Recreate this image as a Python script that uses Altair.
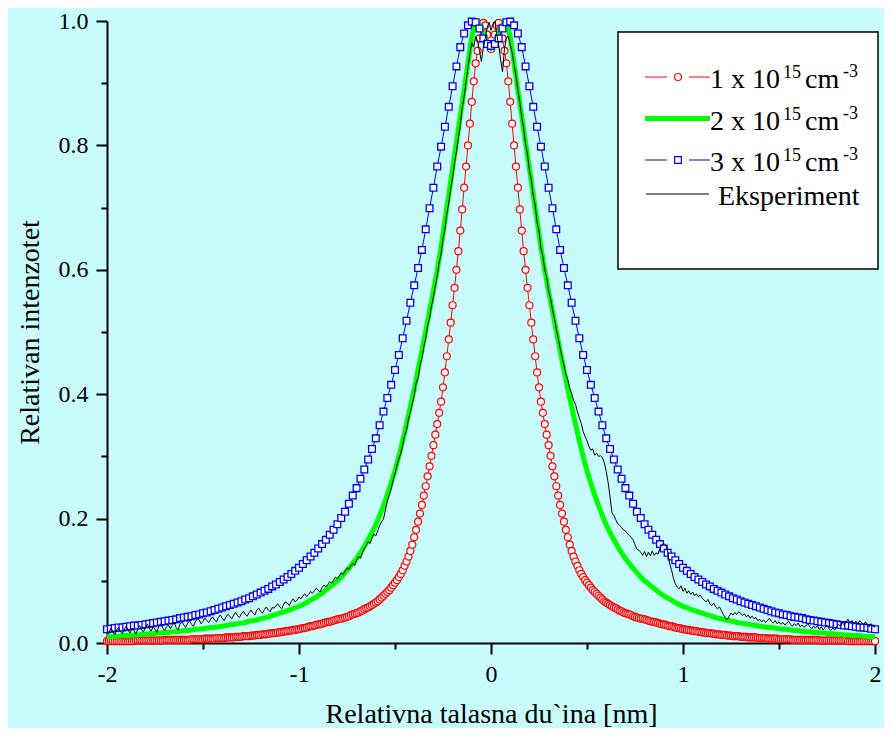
import altair as alt
import pandas as pd

FONT = "Liberation Serif"

# ---------------- data ----------------
# theoretical profiles are symmetric: values for x >= 0, mirrored to x < 0
RED_STEP = 0.01   # 1 x 10^15 cm^-3
red_half = [
    0.955, 0.962, 0.978, 0.993, 0.997, 0.988, 0.972, 0.952, 0.932, 0.903,
    0.870, 0.835, 0.800, 0.766, 0.732, 0.697, 0.663, 0.630, 0.600, 0.571,
    0.543, 0.515, 0.488, 0.461, 0.435, 0.411, 0.388, 0.370, 0.352, 0.335,
    0.318, 0.301, 0.284, 0.268, 0.252, 0.237, 0.222, 0.208, 0.195, 0.182,
    0.170, 0.158, 0.148, 0.139, 0.131, 0.124, 0.117, 0.111, 0.106, 0.101,
    0.097, 0.093, 0.089, 0.085, 0.082, 0.079, 0.076, 0.073, 0.070, 0.067,
    0.065, 0.063, 0.061, 0.059, 0.057, 0.056, 0.054, 0.052, 0.051, 0.049,
    0.048, 0.047, 0.046, 0.045, 0.043, 0.042, 0.041, 0.040, 0.039, 0.039,
    0.038, 0.037, 0.036, 0.035, 0.034, 0.034, 0.033, 0.032, 0.031, 0.030,
    0.030, 0.029, 0.028, 0.027, 0.027, 0.026, 0.025, 0.024, 0.024, 0.023,
    0.022, 0.022, 0.021, 0.021, 0.020, 0.020, 0.019, 0.019, 0.018, 0.018,
    0.017, 0.017, 0.016, 0.016, 0.016, 0.015, 0.015, 0.014, 0.014, 0.014,
    0.013, 0.013, 0.013, 0.012, 0.012, 0.012, 0.011, 0.011, 0.011, 0.011,
    0.010, 0.010, 0.010, 0.010, 0.009, 0.009, 0.009, 0.009, 0.009, 0.008,
    0.008, 0.008, 0.008, 0.008, 0.007, 0.007, 0.007, 0.007, 0.007, 0.007,
    0.006, 0.006, 0.006, 0.006, 0.006, 0.006, 0.006, 0.005, 0.005, 0.005,
    0.005, 0.005, 0.005, 0.005, 0.005, 0.005, 0.005, 0.005, 0.005, 0.005,
    0.005, 0.004, 0.004, 0.004, 0.004, 0.004, 0.004, 0.004, 0.004, 0.004,
    0.004, 0.004, 0.004, 0.004, 0.004, 0.004, 0.003, 0.003, 0.003, 0.003,
    0.003, 0.003, 0.003, 0.003, 0.003, 0.003, 0.003, 0.003, 0.003, 0.003,
    0.003,
]

CURVE_STEP = 0.02  # 2 x 10^15 and 3 x 10^15 cm^-3
green_half = [
    0.957, 0.966, 0.982, 0.995, 0.999, 0.975, 0.932, 0.889, 0.847, 0.805,
    0.763, 0.721, 0.679, 0.637, 0.599, 0.566, 0.534, 0.502, 0.470, 0.439,
    0.408, 0.380, 0.352, 0.325, 0.300, 0.277, 0.257, 0.238, 0.221, 0.205,
    0.190, 0.178, 0.166, 0.155, 0.145, 0.136, 0.128, 0.120, 0.113, 0.106,
    0.100, 0.095, 0.090, 0.085, 0.080, 0.076, 0.072, 0.069, 0.065, 0.062,
    0.059, 0.057, 0.054, 0.052, 0.050, 0.048, 0.046, 0.044, 0.042, 0.040,
    0.039, 0.037, 0.036, 0.035, 0.033, 0.032, 0.031, 0.030, 0.029, 0.028,
    0.027, 0.026, 0.025, 0.025, 0.024, 0.023, 0.022, 0.022, 0.021, 0.020,
    0.020, 0.019, 0.018, 0.018, 0.017, 0.017, 0.016, 0.016, 0.015, 0.015,
    0.014, 0.014, 0.013, 0.013, 0.012, 0.012, 0.012, 0.011, 0.011, 0.010,
    0.010,
]
blue_half = [
    0.960, 0.963, 0.972, 0.988, 0.998, 0.999, 0.993, 0.980, 0.958, 0.927,
    0.895, 0.862, 0.830, 0.798, 0.766, 0.732, 0.699, 0.665, 0.632, 0.603,
    0.575, 0.547, 0.518, 0.490, 0.463, 0.439, 0.415, 0.394, 0.372, 0.350,
    0.329, 0.312, 0.295, 0.279, 0.264, 0.249, 0.237, 0.224, 0.211, 0.201,
    0.191, 0.182, 0.174, 0.166, 0.159, 0.152, 0.145, 0.139, 0.133, 0.127,
    0.121, 0.116, 0.111, 0.106, 0.102, 0.098, 0.094, 0.091, 0.087, 0.084,
    0.081, 0.078, 0.075, 0.072, 0.070, 0.067, 0.065, 0.063, 0.061, 0.059,
    0.057, 0.055, 0.053, 0.051, 0.049, 0.048, 0.046, 0.045, 0.043, 0.042,
    0.041, 0.040, 0.038, 0.037, 0.036, 0.035, 0.034, 0.033, 0.032, 0.031,
    0.030, 0.029, 0.028, 0.028, 0.027, 0.026, 0.025, 0.025, 0.024, 0.023,
    0.022,
]

# experiment, x = -2.00 ... 2.00, step 0.01
EXP_START = -2.0
EXP_STEP = 0.01
exp_left = [  # -2.00 ... -0.01
    0.020, 0.016, 0.024, 0.019, 0.013, 0.021, 0.025, 0.018, 0.015, 0.022,
    0.027, 0.020, 0.016, 0.023, 0.021, 0.014, 0.022, 0.028, 0.021, 0.018,
    0.025, 0.030, 0.024, 0.019, 0.026, 0.022, 0.017, 0.027, 0.031, 0.024,
    0.020, 0.026, 0.029, 0.023, 0.028, 0.033, 0.025, 0.021, 0.030, 0.034,
    0.029, 0.025, 0.032, 0.036, 0.030, 0.027, 0.034, 0.039, 0.037, 0.031,
    0.035, 0.040, 0.036, 0.033, 0.038, 0.042, 0.037, 0.034, 0.041, 0.045,
    0.040, 0.036, 0.042, 0.046, 0.043, 0.039, 0.045, 0.049, 0.044, 0.041,
    0.047, 0.051, 0.046, 0.043, 0.049, 0.053, 0.048, 0.045, 0.053, 0.056,
    0.051, 0.048, 0.054, 0.058, 0.053, 0.050, 0.057, 0.056, 0.060, 0.063,
    0.058, 0.055, 0.062, 0.066, 0.064, 0.060, 0.067, 0.071, 0.066, 0.069,
    0.074, 0.071, 0.076, 0.079, 0.075, 0.078, 0.083, 0.080, 0.084, 0.088,
    0.085, 0.082, 0.089, 0.093, 0.090, 0.094, 0.099, 0.096, 0.101, 0.106,
    0.103, 0.108, 0.113, 0.110, 0.116, 0.121, 0.118, 0.124, 0.128, 0.125,
    0.133, 0.139, 0.136, 0.145, 0.152, 0.157, 0.163, 0.160, 0.168, 0.175,
    0.172, 0.180, 0.189, 0.195, 0.199, 0.214, 0.228, 0.238, 0.248, 0.262,
    0.272, 0.286, 0.296, 0.305, 0.318, 0.334, 0.342, 0.360, 0.371, 0.385,
    0.398, 0.418, 0.426, 0.446, 0.458, 0.476, 0.490, 0.510, 0.522, 0.542,
    0.556, 0.574, 0.590, 0.612, 0.625, 0.650, 0.665, 0.690, 0.708, 0.730,
    0.748, 0.772, 0.790, 0.812, 0.832, 0.860, 0.878, 0.902, 0.925, 0.948,
    0.965, 0.958, 0.975, 0.968, 0.952, 0.935, 0.958, 0.972, 0.990, 0.998,
]
exp_mid = [0.985]  # 0.00
exp_right = [  # 0.01 ... 2.00
    0.995, 1.000, 0.978, 0.962, 0.938, 0.918, 0.955, 0.972, 0.976, 0.962,
    0.950, 0.930, 0.912, 0.888, 0.870, 0.845, 0.828, 0.802, 0.786, 0.760,
    0.745, 0.718, 0.704, 0.676, 0.662, 0.634, 0.622, 0.600, 0.588, 0.566,
    0.554, 0.536, 0.522, 0.505, 0.490, 0.474, 0.460, 0.446, 0.432, 0.423,
    0.410, 0.401, 0.390, 0.384, 0.372, 0.362, 0.353, 0.340, 0.332, 0.325,
    0.316, 0.310, 0.312, 0.302, 0.305, 0.300, 0.301, 0.298, 0.290, 0.276,
    0.258, 0.235, 0.209, 0.205, 0.198, 0.192, 0.189, 0.186, 0.182, 0.180,
    0.176, 0.173, 0.170, 0.166, 0.158, 0.151, 0.149, 0.146, 0.141, 0.147,
    0.139, 0.146, 0.140, 0.148, 0.141, 0.145, 0.143, 0.152, 0.158, 0.160,
    0.157, 0.148, 0.128, 0.118, 0.104, 0.095, 0.090, 0.087, 0.092, 0.083,
    0.088, 0.080, 0.084, 0.078, 0.082, 0.076, 0.079, 0.074, 0.077, 0.072,
    0.069, 0.066, 0.070, 0.063, 0.060, 0.064, 0.058, 0.055, 0.058, 0.052,
    0.046, 0.041, 0.037, 0.043, 0.048, 0.045, 0.049, 0.046, 0.050, 0.048,
    0.044, 0.047, 0.042, 0.045, 0.040, 0.043, 0.039, 0.041, 0.036, 0.038,
    0.034, 0.037, 0.033, 0.036, 0.040, 0.035, 0.032, 0.036, 0.031, 0.034,
    0.030, 0.033, 0.029, 0.032, 0.035, 0.030, 0.027, 0.031, 0.028, 0.032,
    0.026, 0.029, 0.025, 0.028, 0.031, 0.026, 0.023, 0.027, 0.024, 0.028,
    0.022, 0.026, 0.021, 0.025, 0.029, 0.023, 0.020, 0.024, 0.021, 0.026,
    0.030, 0.027, 0.033, 0.029, 0.035, 0.038, 0.032, 0.036, 0.030, 0.035,
    0.031, 0.036, 0.033, 0.029, 0.034, 0.030, 0.026, 0.031, 0.027, 0.025,
]

x_ticks_major = [-2, -1, 0, 1, 2]
x_ticks_minor = [-1.5, -0.5, 0.5, 1.5]
y_ticks_major = [0.0, 0.2, 0.4, 0.6, 0.8, 1.0]
y_ticks_minor = [0.1, 0.3, 0.5, 0.7, 0.9]

legend_labels = ["1 x 10", "2 x 10", "3 x 10"]
legend_exp = "Eksperiment"


# ---------------- tables ----------------
def mirrored(half, step):
    xs_half = [round(i * step, 3) for i in range(len(half))]
    xs = [-v for v in xs_half[::-1]] + xs_half[1:]
    ys = half[::-1] + half[1:]
    return pd.DataFrame({"x": xs, "y": ys})


red_df = mirrored(red_half, RED_STEP)
green_df = mirrored(green_half, CURVE_STEP)
blue_df = mirrored(blue_half, CURVE_STEP)
exp_y = exp_left + exp_mid + exp_right
assert len(exp_y) == 401, len(exp_y)
exp_df = pd.DataFrame({"x": [round(EXP_START + i * EXP_STEP, 2) for i in range(len(exp_y))], "y": exp_y})
one = pd.DataFrame({"k": [0]})

# ---------------- scales & axes ----------------
XS = alt.Scale(domain=[-2, 2], nice=False, zero=False)
YS = alt.Scale(domain=[0, 1], nice=False, zero=False)

common = dict(domainColor="black", domainWidth=2, tickColor="black", tickWidth=2, grid=False,
              labelFont=FONT, labelFontSize=24, labelColor="black", labelOverlap=False, labelFlush=False,
              titleFont=FONT, titleFontSize=28, titleFontWeight="normal", titleColor="black")
x_major = alt.Axis(orient="bottom", values=x_ticks_major, tickSize=11, labelPadding=8,
                   labelExpr="'' + datum.value", title="Relativna talasna du`ina [nm]",
                   titlePadding=14, **common)
y_major = alt.Axis(orient="left", values=y_ticks_major, tickSize=11, labelPadding=8,
                   labelExpr="format(datum.value, '.1f')", title="Relativan intenzotet",
                   titlePadding=14, **common)
x_minor = alt.Axis(orient="bottom", values=x_ticks_minor, tickSize=6, tickWidth=2, tickColor="black",
                   domain=False, labels=False, grid=False, title=None)
y_minor = alt.Axis(orient="left", values=y_ticks_minor, tickSize=6, tickWidth=2, tickColor="black",
                   domain=False, labels=False, grid=False, title=None)


def enc(ax=None, ay=None):
    return dict(x=alt.X("x:Q", scale=XS, axis=ax), y=alt.Y("y:Q", scale=YS, axis=ay))


RED, GREEN, BLUE = "#ff0000", "#00ff00", "#0000ff"

red_line = alt.Chart(red_df).mark_line(color=RED, strokeWidth=1).encode(**enc(x_major, y_major))
red_pts = alt.Chart(red_df).mark_point(shape="circle", size=49, filled=True, fill="white", stroke=RED,
                                       strokeWidth=1.2, opacity=1).encode(**enc(x_minor, y_minor))
green_line = alt.Chart(green_df).mark_line(color=GREEN, strokeWidth=5).encode(**enc())
blue_line = alt.Chart(blue_df).mark_line(color=BLUE, strokeWidth=1).encode(**enc())
blue_pts = alt.Chart(blue_df).mark_point(shape="square", size=45, filled=True, fill="white", stroke=BLUE,
                                         strokeWidth=1.3, opacity=1).encode(**enc())
exp_line = alt.Chart(exp_df).mark_line(color="black", strokeWidth=1).encode(**enc())

# ---------------- legend (drawn in pixel space) ----------------
leg = [alt.Chart(one).mark_rect(fill="white", stroke="black", strokeWidth=1.5).encode(
    x=alt.value(511), x2=alt.value(771), y=alt.value(11), y2=alt.value(248))]


def hline(x1, x2, y, color, w):
    return alt.Chart(one).mark_rule(color=color, strokeWidth=w).encode(
        x=alt.value(x1), x2=alt.value(x2), y=alt.value(y))


def txt(s, x, y, size):
    return alt.Chart(one).mark_text(text=s, font=FONT, fontSize=size, align="left",
                                    baseline="alphabetic", color="black").encode(
        x=alt.value(x), y=alt.value(y))


row_line_y = [56, 97.5, 139]
row_base_y = [67, 108.5, 149.5]
for i, lab in enumerate(legend_labels):
    ly, by = row_line_y[i], row_base_y[i]
    if i == 1:
        leg.append(hline(538, 603, ly, GREEN, 5))
    else:
        c = RED if i == 0 else BLUE
        leg.append(hline(538, 560, ly, c, 1))
        leg.append(hline(582, 603, ly, c, 1))
        shape = "circle" if i == 0 else "square"
        leg.append(alt.Chart(one).mark_point(shape=shape, size=49 if i == 0 else 45, filled=True,
                                             fill="white", stroke=c, strokeWidth=1.2, opacity=1).encode(
            x=alt.value(571), y=alt.value(ly)))
    leg.append(txt(lab, 603, by, 28))
    leg.append(txt("15", 676, by - 10, 18))
    leg.append(txt("cm", 698, by, 28))
    leg.append(txt("-3", 736, by - 11, 18))
leg.append(hline(539, 602, 173, "black", 1))
leg.append(txt(legend_exp, 611, 184, 28))

chart = alt.layer(red_line, red_pts, green_line, blue_line, blue_pts, exp_line, *leg).resolve_axis(
    x="independent", y="independent"
).properties(
    width=768, height=622,
    padding={"left": 99, "top": 13, "right": 9, "bottom": 85},
    autosize=alt.AutoSizeParams(type="none"),
    background="#c8fcfc",
).configure_view(strokeWidth=0)

chart.save("out.html", embed_options={"renderer": "svg", "actions": False})
